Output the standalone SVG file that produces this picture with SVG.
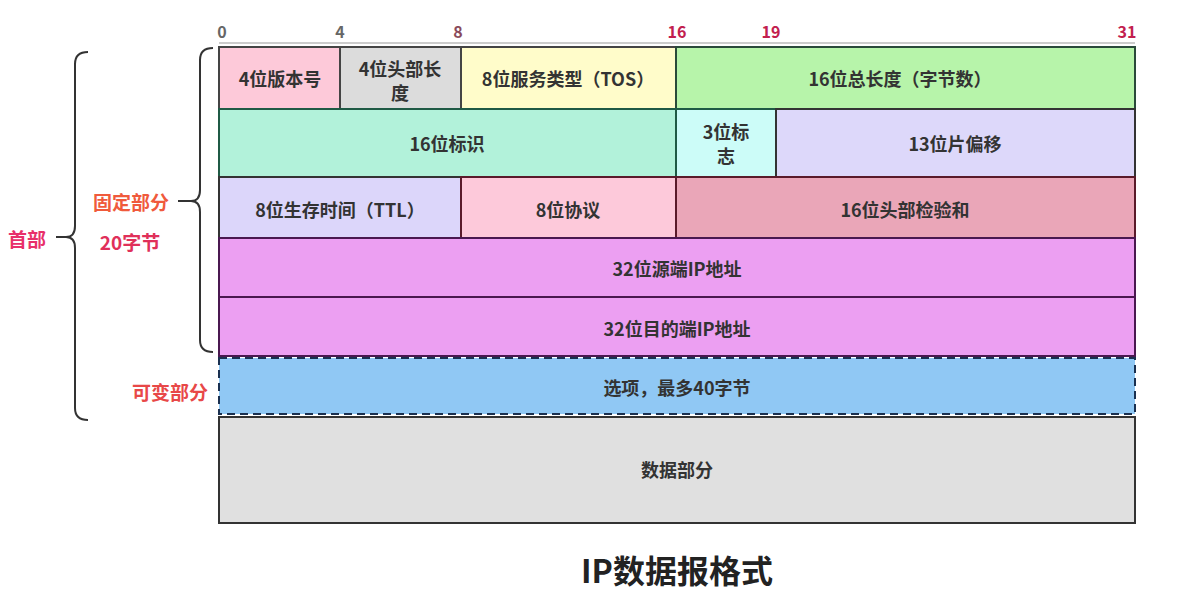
<svg xmlns="http://www.w3.org/2000/svg" width="1180" height="610" viewBox="0 0 1180 610">
<style>
  text { font-family: "Noto Sans CJK SC", "Liberation Sans", sans-serif; }
  .t { font-size: 18px; font-weight: bold; fill: #333; text-anchor: middle; dominant-baseline: central; }
  .n { font-size: 16px; font-weight: bold; text-anchor: middle; }
  .side { font-size: 19px; font-weight: bold; text-anchor: middle; dominant-baseline: central; }
  .cell { stroke-width: 2; }
  .brace { fill: none; stroke: #333; stroke-width: 2; }
</style>
<rect width="1180" height="610" fill="#ffffff"/>

<g id="scale">
  <line x1="219" y1="43" x2="1135" y2="43" stroke="#cccccc" stroke-width="2"/>
  <text class="n" x="222" y="38" fill="#666">0</text>
  <text class="n" x="340" y="38" fill="#666">4</text>
  <text class="n" x="458" y="38" fill="#8a4a5a">8</text>
  <text class="n" x="677" y="38" fill="#c2204e">16</text>
  <text class="n" x="771" y="38" fill="#c2204e">19</text>
  <text class="n" x="1127" y="38" fill="#c2204e">31</text>
</g>

<g id="version">
  <rect class="cell" x="219" y="47" width="121" height="62" fill="#fdc9d9" stroke="#444"/>
  <text class="t" x="280" y="78">4位版本号</text>
</g>
<g id="header-length">
  <rect class="cell" x="340" y="47" width="121" height="62" fill="#dcdcdc" stroke="#444"/>
  <text class="t" x="400" y="68">4位头部长</text>
  <text class="t" x="400" y="92">度</text>
</g>
<g id="tos">
  <rect class="cell" x="461" y="47" width="215" height="62" fill="#fffcca" stroke="#444"/>
  <text class="t" x="568" y="78">8位服务类型（TOS）</text>
</g>
<g id="total-length">
  <rect class="cell" x="676" y="47" width="459" height="62" fill="#b7f4aa" stroke="#2a4a3a"/>
  <text class="t" x="900" y="78">16位总长度（字节数）</text>
</g>

<g id="identification">
  <rect class="cell" x="219" y="109" width="457" height="68" fill="#b2f2da" stroke="#1f5a45"/>
  <text class="t" x="447" y="143">16位标识</text>
</g>
<g id="flags">
  <rect class="cell" x="676" y="109" width="100" height="68" fill="#ccfcf8" stroke="#1f5a45"/>
  <text class="t" x="726" y="131">3位标</text>
  <text class="t" x="726" y="155">志</text>
</g>
<g id="fragment-offset">
  <rect class="cell" x="776" y="109" width="359" height="68" fill="#ddd8fa" stroke="#333"/>
  <text class="t" x="955" y="143">13位片偏移</text>
</g>

<g id="ttl">
  <rect class="cell" x="219" y="177" width="242" height="61" fill="#dcd6fa" stroke="#333"/>
  <text class="t" x="340" y="209">8位生存时间（TTL）</text>
</g>
<g id="protocol">
  <rect class="cell" x="461" y="177" width="215" height="61" fill="#fdc9da" stroke="#5a1a2a"/>
  <text class="t" x="568" y="209">8位协议</text>
</g>
<g id="checksum">
  <rect class="cell" x="676" y="177" width="459" height="61" fill="#eaa6b8" stroke="#5a1a2a"/>
  <text class="t" x="905" y="209">16位头部检验和</text>
</g>

<g id="source-ip">
  <rect class="cell" x="219" y="238" width="916" height="59" fill="#ec9ff2" stroke="#4a1850"/>
  <text class="t" x="677" y="268">32位源端IP地址</text>
</g>
<g id="dest-ip">
  <rect class="cell" x="219" y="297" width="916" height="59" fill="#ec9ff2" stroke="#4a1850"/>
  <text class="t" x="677" y="328">32位目的端IP地址</text>
</g>

<g id="options">
  <rect x="219" y="358" width="916" height="56" fill="#90c8f4" stroke="#1a3050" stroke-width="2" stroke-dasharray="8,5"/>
  <text class="t" x="677" y="387">选项，最多40字节</text>
</g>

<g id="data">
  <rect class="cell" x="219" y="417" width="916" height="106" fill="#e0e0e0" stroke="#333"/>
  <text class="t" x="677" y="469">数据部分</text>
</g>

<g id="connectors">
  <path class="brace" d="M88 52 Q75 52 75 64 L75 226 Q75 237 66 237 L56 237 M66 237 Q75 237 75 248 L75 408 Q75 420 88 420"/>
  <path class="brace" d="M213 48 Q200 48 200 60 L200 190 Q200 201 191 201 L178 201 M191 201 Q200 201 200 212 L200 340 Q200 352 213 352"/>
</g>

<g id="labels">
  <text class="side" x="27" y="238" fill="#e8306a">首部</text>
  <text class="side" x="131" y="201" fill="#f05a3c">固定部分</text>
  <text class="side" x="130" y="241" fill="#e0305a">20字节</text>
  <text class="side" x="170" y="391" fill="#e84848">可变部分</text>
</g>

<g id="title">
  <text x="677" y="569" font-size="32" font-weight="bold" fill="#222" text-anchor="middle" dominant-baseline="central">IP数据报格式</text>
</g>
</svg>
